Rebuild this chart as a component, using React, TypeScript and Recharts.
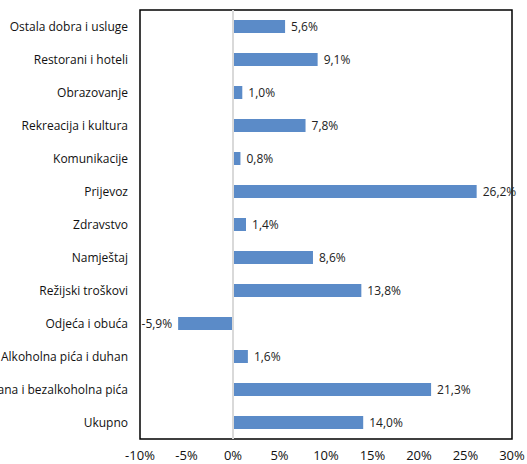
import { BarChart, Bar, XAxis, YAxis, ReferenceArea, ReferenceLine, LabelList } from "recharts";

const categories = [
  "Ostala dobra i usluge",
  "Restorani i hoteli",
  "Obrazovanje",
  "Rekreacija i kultura",
  "Komunikacije",
  "Prijevoz",
  "Zdravstvo",
  "Namještaj",
  "Režijski troškovi",
  "Odjeća i obuća",
  "Alkoholna pića i duhan",
  "Hrana i bezalkoholna pića",
  "Ukupno",
];
const values = [5.6, 9.1, 1.0, 7.8, 0.8, 26.2, 1.4, 8.6, 13.8, -5.9, 1.6, 21.3, 14.0];
const xTicks = [-10, -5, 0, 5, 10, 15, 20, 25, 30];

const data = categories.map((name, i) => ({ name, value: values[i] }));

const FONT = "'Open Sans', sans-serif";
const fmt = (v: number) => `${v.toFixed(1).replace(".", ",")}%`;

// eslint-disable-next-line @typescript-eslint/no-explicit-any
function ValueLabel(props: any) {
  const { x, y, width, height, value } = props;
  const left = Math.min(x, x + width);
  const right = Math.max(x, x + width);
  const neg = value < 0;
  return (
    <text
      x={neg ? left - 6 : right + 6}
      y={y + height / 2}
      dy="0.35em"
      textAnchor={neg ? "end" : "start"}
      fontSize={12}
      fontFamily={FONT}
      fill="#222"
    >
      {fmt(value)}
    </text>
  );
}

// single-line category labels, allowed to run off the left edge
// eslint-disable-next-line @typescript-eslint/no-explicit-any
function CategoryTick({ x, y, payload }: any) {
  return (
    <text x={x} y={y} dy="0.35em" textAnchor="end" fontSize={12} fontFamily={FONT} fill="#111">
      {payload.value}
    </text>
  );
}

export default function App() {
  return (
    <div style={{ position: "absolute", left: 0, top: 0, width: 527, height: 464, background: "#fff" }}>
      <BarChart
        layout="vertical"
        width={527}
        height={464}
        data={data}
        margin={{ top: 10, right: 15, left: 0, bottom: 0 }}
      >
        <XAxis
          type="number"
          domain={[-10, 30]}
          ticks={xTicks}
          tickFormatter={(v: number) => `${v}%`}
          axisLine={false}
          tickLine={false}
          tickMargin={6}
          height={25}
          interval={0}
          tick={{ fontSize: 13, fill: "#111", fontFamily: FONT }}
        />
        <YAxis
          type="category"
          dataKey="name"
          width={140}
          axisLine={false}
          tickLine={false}
          tickMargin={6}
          interval={0}
          tick={<CategoryTick />}
        />
        <ReferenceLine x={0} stroke="#d9d9d9" strokeWidth={2} />
        <Bar dataKey="value" fill="#5b8bc8" barSize={13} isAnimationActive={false}>
          <LabelList dataKey="value" content={<ValueLabel />} />
        </Bar>
        <ReferenceArea x1={-10} x2={30} fill="none" stroke="#000" strokeWidth={1.5} fillOpacity={0} ifOverflow="extendDomain" />
      </BarChart>
    </div>
  );
}
